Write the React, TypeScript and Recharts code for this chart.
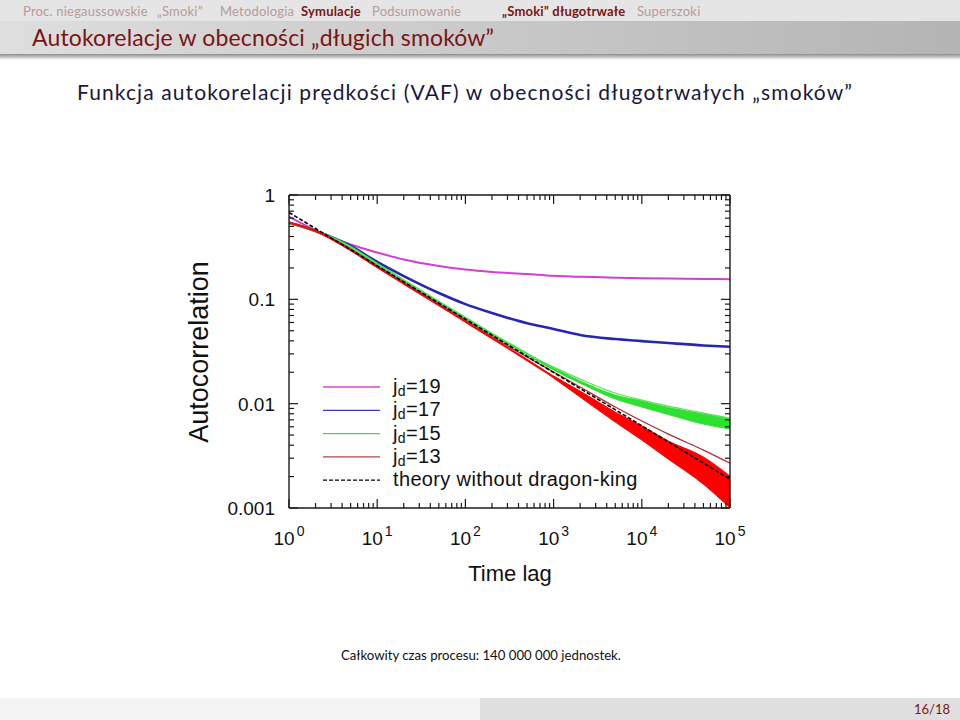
import React from "react";
import { ComposedChart, Line, Area, XAxis, YAxis } from "recharts";

// time lag grid (x)
const lags = [1, 2, 5, 10, 20, 50, 100, 200, 500, 1000, 2000, 5000, 10000, 20000, 50000, 100000];

// VAF, j_d = 19 (magenta)
const vafJd19 = [0.619, 0.457, 0.335, 0.281, 0.241, 0.209, 0.193, 0.183, 0.175, 0.168, 0.165, 0.161, 0.159, 0.158, 0.157, 0.156];
// VAF, j_d = 17 (blue)
const vafJd17 = [0.543, 0.452, 0.3245, 0.228, 0.167, 0.115, 0.09, 0.074, 0.059, 0.052, 0.0455, 0.0416, 0.0398, 0.0381, 0.0361, 0.0351];
// VAF, j_d = 15 (green) - simulation, its noise band and the fitted curve
const vafJd15 = [0.539, 0.452, 0.3172, 0.218, 0.1515, 0.0942, 0.0662, 0.0465, 0.0299, 0.0215, 0.0161, 0.01157, 0.00991, 0.00849, 0.00712, 0.00637];
const vafJd15Low = [null, null, null, null, null, null, null, null, null, 0.0212, 0.01576, 0.01107, 0.00928, 0.00786, 0.00637, 0.00571];
const vafJd15High = [null, null, null, null, null, null, null, null, null, 0.0218, 0.01647, 0.01209, 0.01059, 0.00918, 0.00795, 0.00712];
const vafJd15Fit = [0.539, 0.452, 0.3172, 0.218, 0.1515, 0.0942, 0.0662, 0.0465, 0.0299, 0.0224, 0.0172, 0.01264, 0.01082, 0.00948, 0.00813, 0.00728];
// VAF, j_d = 13 (red) - simulation, its noise band and the fitted curve
const vafJd13 = [0.545, 0.452, 0.297, 0.204, 0.1417, 0.0882, 0.0612, 0.0426, 0.0262, 0.018, 0.01236, 0.00744, 0.00522, 0.00359, 0.00231, 0.00142];
const vafJd13Low = [null, null, null, null, null, null, null, null, null, 0.0176, 0.01157, 0.00666, 0.00448, 0.00294, 0.00169, 0.001];
const vafJd13High = [null, null, null, null, null, null, null, null, null, 0.0184, 0.0132, 0.00831, 0.0061, 0.00438, 0.00308, 0.00202];
const vafJd13Fit = [0.545, 0.462, 0.3036, 0.2086, 0.1449, 0.0901, 0.0633, 0.044, 0.028, 0.0201, 0.01442, 0.00928, 0.00681, 0.00511, 0.00359, 0.00269];
// theory without dragon-king (straight line in log-log)
const theoryNoDK = [0.68, null, null, 0.2095, null, null, 0.0646, null, null, 0.0199, null, null, 0.00614, null, null, 0.00189];

const xDecades = [1, 10, 100, 1000, 10000, 100000];
const yDecades = [0.001, 0.01, 0.1, 1];
const yTickLabels = ["0.001", "0.01", "0.1", "1"];

const legendItems = [
    { sub: "d", label: "=19", color: "#d447d4", dash: "" },
    { sub: "d", label: "=17", color: "#3c3cb0", dash: "" },
    { sub: "d", label: "=15", color: "#3ee03e", dash: "" },
    { sub: "d", label: "=13", color: "#a84848", dash: "" },
    { sub: "", label: "theory without dragon-king", color: "#000", dash: "4 2" },
];

const navLeft = [
    { text: "Proc. niegaussowskie", active: false, x: 23 },
    { text: "\u201eSmoki\u201d", active: false, x: 157 },
    { text: "Metodologia", active: false, x: 220 },
    { text: "Symulacje", active: true, x: 301 },
    { text: "Podsumowanie", active: false, x: 372 },
];
const navRight = [
    { text: "\u201eSmoki\u201d d\u0142ugotrwa\u0142e", active: true, x: 502 },
    { text: "Superszoki", active: false, x: 637 },
];

const data = lags.map((t, i) => ({
    t,
    jd19: vafJd19[i],
    jd17: vafJd17[i],
    jd15: vafJd15[i],
    jd15Band: vafJd15Low[i] != null ? [vafJd15Low[i], vafJd15High[i]] : null,
    jd15Fit: vafJd15Fit[i],
    jd13: vafJd13[i],
    jd13Band: vafJd13Low[i] != null ? [vafJd13Low[i], vafJd13High[i]] : null,
    jd13Fit: vafJd13Fit[i],
    theory: theoryNoDK[i],
}));

const minor = [1, 2, 3, 4, 5, 6, 7, 8, 9];
const xTicks = xDecades.flatMap(d => minor.map(m => d * m)).filter(v => v <= 100000);
const yTicks = yDecades.flatMap(d => minor.map(m => d * m)).filter(v => v <= 1.0000001);

const W = 960, H = 720;
const plot = { left: 289, right: 730, top: 195, bottom: 508 };
const axisColor = "#1a1a1a";
const plotFont = "'Liberation Sans', Arial, sans-serif";
const slideFont = "Lato, 'Open Sans', sans-serif";
const beamerRed = "#7a1515";

const isMajor = (v: number) => Math.abs(Math.log10(v) - Math.round(Math.log10(v))) < 1e-6;

function BottomTick(props: any) {
    const { x, y, payload } = props;
    const major = isMajor(payload.value);
    return (
        <g>
            <line x1={x} y1={y} x2={x} y2={y - (major ? 9 : 5)} stroke={axisColor} strokeWidth={1.2} />
            {major && (
                <text x={x} y={y + 37} textAnchor="middle" fontSize={19} fontFamily={plotFont} fill="#111">
                    10<tspan dx={2} dy={-9} fontSize={14}>{Math.round(Math.log10(payload.value))}</tspan>
                </text>
            )}
        </g>
    );
}

function TopTick(props: any) {
    const { x, y, payload } = props;
    const major = isMajor(payload.value);
    return <line x1={x} y1={y} x2={x} y2={y + (major ? 9 : 5)} stroke={axisColor} strokeWidth={1.2} />;
}

function LeftTick(props: any) {
    const { x, y, payload } = props;
    const major = isMajor(payload.value);
    const idx = yDecades.findIndex(d => Math.abs(d - payload.value) < d * 1e-6);
    return (
        <g>
            <line x1={x} y1={y} x2={x + (major ? 9 : 5)} y2={y} stroke={axisColor} strokeWidth={1.2} />
            {idx >= 0 && (
                <text x={x - 14} y={y + 7} textAnchor="end" fontSize={19} fontFamily={plotFont} fill="#111">
                    {yTickLabels[idx]}
                </text>
            )}
        </g>
    );
}

function RightTick(props: any) {
    const { x, y, payload } = props;
    const major = isMajor(payload.value);
    return <line x1={x} y1={y} x2={x - (major ? 9 : 5)} y2={y} stroke={axisColor} strokeWidth={1.2} />;
}

function Header() {
    return (
        <>
            <div style={{ position: "absolute", left: 0, top: 0, width: W, height: 21, background: "#e5e5e5" }} />
            {[...navLeft, ...navRight].map(n => (
                <div key={n.text} style={{
                    position: "absolute", left: n.x, top: 3, fontSize: 13, letterSpacing: 0.2, fontFamily: slideFont, whiteSpace: "nowrap",
                    color: n.active ? beamerRed : "#b89a9a", fontWeight: n.active ? 700 : 400,
                }}>{n.text}</div>
            ))}
            <div style={{
                position: "absolute", left: 0, top: 21, width: W, height: 33,
                background: "linear-gradient(to right, #dedede, #b4b4b4)",
            }} />
            <div style={{ position: "absolute", left: 0, top: 54, width: W, height: 6, background: "linear-gradient(to bottom, #8c8c8c, #ffffff)" }} />
            <div style={{ position: "absolute", left: 32, top: 23, fontSize: 23, letterSpacing: 0.15, fontFamily: slideFont, color: beamerRed, whiteSpace: "nowrap" }}>
                Autokorelacje w obecności „długich smoków”
            </div>
            <div style={{ position: "absolute", left: 77, top: 79, fontSize: 21, letterSpacing: 1.1, fontFamily: slideFont, color: "#18183c", whiteSpace: "nowrap" }}>
                Funkcja autokorelacji prędkości (VAF) w obecności długotrwałych „smoków”
            </div>
        </>
    );
}

function Footer() {
    return (
        <>
            <div style={{ position: "absolute", left: 341, top: 647, fontSize: 13.2, fontFamily: slideFont, color: "#111", whiteSpace: "nowrap" }}>
                Całkowity czas procesu: 140 000 000 jednostek.
            </div>
            <div style={{ position: "absolute", left: 0, top: 698, width: 480, height: 22, background: "#f3f3f3" }} />
            <div style={{ position: "absolute", left: 480, top: 698, width: 480, height: 22, background: "#dfdfdf" }} />
            <div style={{ position: "absolute", left: 914, top: 701, fontSize: 13, fontFamily: slideFont, color: beamerRed }}>16/18</div>
        </>
    );
}

function Overlay() {
    return (
        <svg width={W} height={H} style={{ position: "absolute", left: 0, top: 0, pointerEvents: "none" }}>
            <text x={199} y={352} transform="rotate(-90 199 352)" textAnchor="middle" dominantBaseline="central"
                fontSize={27} fontFamily={plotFont} fill="#111">Autocorrelation</text>
            <text x={510} y={581} textAnchor="middle" fontSize={22} fontFamily={plotFont} fill="#111">Time lag</text>
            {legendItems.map((it, i) => {
                const cy = 387 + i * 23.3;
                return (
                    <g key={i}>
                        <line x1={323} x2={380} y1={cy} y2={cy} stroke={it.color} strokeWidth={1.3} strokeDasharray={it.dash || undefined} />
                        <text x={393} y={cy + 6} fontSize={20} letterSpacing={0.35} fontFamily={plotFont} fill="#111">
                            {it.sub ? <>j<tspan dy={3} fontSize={14}>{it.sub}</tspan><tspan dy={-3}>{it.label}</tspan></> : it.label}
                        </text>
                    </g>
                );
            })}
        </svg>
    );
}

export default function App() {
    return (
        <div style={{ position: "absolute", left: 0, top: 0, width: W, height: H, background: "#fff", overflow: "hidden" }}>
            <Header />
            <div style={{ position: "absolute", left: 0, top: 0 }}>
                <ComposedChart width={W} height={H} data={data}
                    margin={{ left: plot.left - 1, right: W - plot.right - 1, top: plot.top - 1, bottom: H - plot.bottom - 1 }}>
                    <XAxis dataKey="t" type="number" scale="log" domain={[1, 100000]} allowDataOverflow ticks={xTicks} interval={0}
                        height={1} tickSize={0} tickMargin={0} tickLine={false} tick={BottomTick}
                        axisLine={{ stroke: axisColor, strokeWidth: 1.4 }} />
                    <XAxis xAxisId="top" orientation="top" dataKey="t" type="number" scale="log" domain={[1, 100000]} allowDataOverflow
                        ticks={xTicks} interval={0} height={1} tickSize={0} tickMargin={0} tickLine={false} tick={TopTick}
                        axisLine={{ stroke: axisColor, strokeWidth: 1.4 }} />
                    <YAxis type="number" scale="log" domain={[0.001, 1]} allowDataOverflow ticks={yTicks} interval={0}
                        width={1} tickSize={0} tickMargin={0} tickLine={false} tick={LeftTick}
                        axisLine={{ stroke: axisColor, strokeWidth: 1.4 }} />
                    <YAxis yAxisId="right" orientation="right" type="number" scale="log" domain={[0.001, 1]} allowDataOverflow
                        ticks={yTicks} interval={0} width={1} tickSize={0} tickMargin={0} tickLine={false} tick={RightTick}
                        axisLine={{ stroke: axisColor, strokeWidth: 1.4 }} />

                    <Line dataKey="jd19" stroke="#d23fd2" strokeWidth={2} dot={false} activeDot={false} isAnimationActive={false} type="monotone" />
                    <Line dataKey="jd17" stroke="#2626b0" strokeWidth={2.6} dot={false} activeDot={false} isAnimationActive={false} type="monotone" />
                    <Area dataKey="jd15Band" stroke="#30e030" strokeWidth={1} fill="#30e030" fillOpacity={1} dot={false} activeDot={false} isAnimationActive={false} type="monotone" />
                    <Line dataKey="jd15" stroke="#30e030" strokeWidth={2.6} dot={false} activeDot={false} isAnimationActive={false} type="monotone" />
                    <Line dataKey="jd15Fit" stroke="#5ae05a" strokeWidth={1.2} dot={false} activeDot={false} isAnimationActive={false} type="monotone" />
                    <Area dataKey="jd13Band" stroke="#ff0000" strokeWidth={1} fill="#ff0000" fillOpacity={1} dot={false} activeDot={false} isAnimationActive={false} type="monotone" />
                    <Line dataKey="jd13" stroke="#ff0000" strokeWidth={2.2} dot={false} activeDot={false} isAnimationActive={false} type="monotone" />
                    <Line dataKey="jd13Fit" stroke="#b02a2a" strokeWidth={1.2} dot={false} activeDot={false} isAnimationActive={false} type="monotone" />
                    <Line dataKey="theory" stroke="#000" strokeWidth={1.6} strokeDasharray="4 2" connectNulls dot={false} activeDot={false} isAnimationActive={false} type="linear" />
                </ComposedChart>
            </div>
            <Overlay />
            <Footer />
        </div>
    );
}
